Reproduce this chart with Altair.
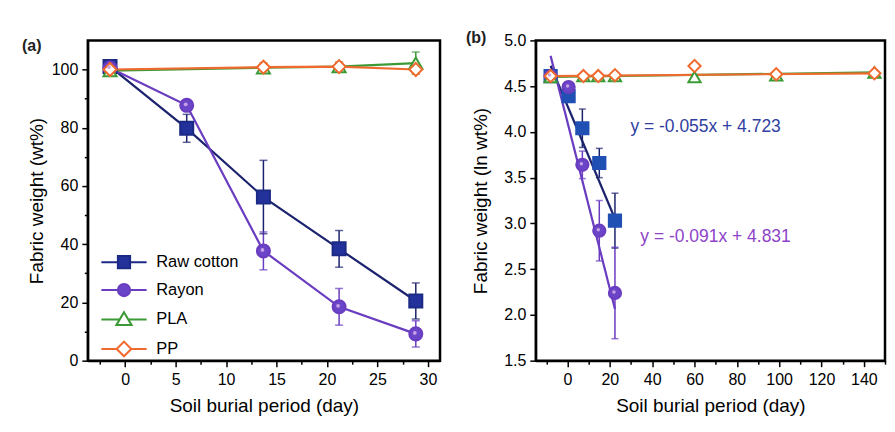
import altair as alt
import pandas as pd

SERIES = ["Raw cotton", "Rayon", "PLA", "PP"]
LINE_COLORS = ["#1c236e", "#6a3cc0", "#3b9a35", "#ef6a2e"]
STROKE_A = ["#1c2a85", "#6a3cc0", "#3b9a35", "#ef6a2e"]
FILL_A = ["#22329a", "#6b45c8", "#ffffff", "#ffffff"]
STROKE_B = ["#2150b4", "#6a3cc0", "#3b9a35", "#ef6a2e"]
FILL_B = ["#2150b4", "#6b45c8", "#ffffff", "#ffffff"]
SHAPES = ["square", "circle", "triangle-up", "diamond"]
HIGHLIGHT = "#c9a2e6"
LEGEND_PATHS = [
    "M-3.7,0H-1M1,0H3.7M-1,-1H1V1H-1Z",
    "M-3.7,0H-1M1,0H3.7M-1,0A1,1,0,1,0,1,0A1,1,0,1,0,-1,0Z",
    "M-3.7,0.1H-0.7M0.7,0.1H3.7M0,-1.1L1.25,1H-1.25Z",
    "M-3.7,0H-1.2M1.2,0H3.7M0,-1.2L1.2,0L0,1.2L-1.2,0Z",
]

# ---------------- panel (a) : Fabric weight (wt%) ----------------
a_days_deg = [-1.5, 6.1, 13.7, 21.2, 28.8]
a_cotton = [101.0, 79.8, 56.2, 38.4, 20.5]
a_cotton_err = [1.0, 4.8, 12.6, 6.3, 6.2]
a_rayon = [100.5, 87.7, 37.7, 18.5, 9.2]
a_rayon_err = [1.0, 1.5, 6.5, 6.3, 4.5]
a_days_stab = [-1.5, 13.7, 21.2, 28.8]
a_pla = [99.6, 100.6, 101.0, 102.2]
a_pla_err = [1.0, 1.5, 1.5, 3.8]
a_pp = [100.0, 100.8, 101.0, 100.0]
a_pp_err = [1.0, 1.5, 1.5, 1.5]

# ---------------- panel (b) : Fabric weight (ln wt%) ----------------
b_days_deg = [-8.0, 0.5, 7.0, 15.0, 22.4]
b_cotton = [4.61, 4.39, 4.04, 3.66, 3.03]
b_cotton_err = [0.02, 0.05, 0.21, 0.16, 0.30]
b_rayon = [4.61, 4.49, 3.64, 2.92, 2.24]
b_rayon_err = [0.02, 0.03, 0.15, 0.33, 0.50]
b_days_stab = [-8.0, 7.5, 14.5, 22.4, 60.0, 98.6, 145.0]
b_pla = [4.60, 4.61, 4.61, 4.61, 4.60, 4.62, 4.65]
b_pp = [4.61, 4.61, 4.61, 4.62, 4.72, 4.63, 4.64]

# fitted lines in panel (b) (slope per day, intercept at first point)
fit_series = ["Raw cotton", "Rayon", "PLA", "PP"]
fit_slope = [-0.055, -0.091, 0.00033, 0.0002]
fit_intercept = [4.723, 4.831, 4.60, 4.61]
fit_x_start = [-8.0, -8.0, -8.0, -8.0]
fit_x_end = [22.4, 22.4, 145.0, 145.0]

eq_text = ["y = -0.055x + 4.723", "y = -0.091x + 4.831"]
eq_x = [29.7, 34.4]
eq_y = [4.05, 2.85]
eq_color = ["#3040a0", "#8e43c8"]

FONT = "Liberation Sans"


def long_df(series_list):
    rows = []
    for name, xs, ys, es in series_list:
        for x, y, e in zip(xs, ys, es):
            rows.append({"series": name, "day": x, "val": y,
                         "lo": y - e, "hi": y + e})
    return pd.DataFrame(rows)


df_a = long_df([
    ("Raw cotton", a_days_deg, a_cotton, a_cotton_err),
    ("Rayon", a_days_deg, a_rayon, a_rayon_err),
    ("PLA", a_days_stab, a_pla, a_pla_err),
    ("PP", a_days_stab, a_pp, a_pp_err),
])
df_b = long_df([
    ("Raw cotton", b_days_deg, b_cotton, b_cotton_err),
    ("Rayon", b_days_deg, b_rayon, b_rayon_err),
    ("PLA", b_days_stab, b_pla, [0.0] * len(b_pla)),
    ("PP", b_days_stab, b_pp, [0.0] * len(b_pp)),
])
fit_rows = []
for s, m, c, x0, x1 in zip(fit_series, fit_slope, fit_intercept, fit_x_start, fit_x_end):
    for x in (x0, x1):
        fit_rows.append({"series": s, "day": x, "val": c + m * (x - x0)})
df_fit = pd.DataFrame(fit_rows)
df_eq = pd.DataFrame({"text": eq_text, "day": eq_x, "val": eq_y, "color": eq_color})


def minor_size(step):
    return {"condition": {"test": f"abs(datum.value % {step}) > 0.001", "value": 3.5}, "value": 6}


# ---- panel a ----
xa = alt.X("day:Q", scale=alt.Scale(domain=[-3.7, 31.2], nice=False, zero=False),
           axis=alt.Axis(title="Soil burial period (day)",
                         values=[-2.5 + 2.5 * i for i in range(14)],
                         labelExpr="abs(datum.value % 5) < 0.001 ? datum.label : ''",
                         tickSize=minor_size(5), labelPadding=5))
ya_scale = alt.Scale(domain=[0, 110], nice=False)
ya_axis = alt.Axis(title="Fabric weight (wt%)",
                   values=[10 * i for i in range(11)],
                   labelExpr="datum.value % 20 === 0 ? datum.label : ''",
                   tickSize=minor_size(20), titlePadding=5)


def ya(field):
    return alt.Y(field, scale=ya_scale, axis=ya_axis)


line_color = alt.Color("series:N", scale=alt.Scale(domain=SERIES, range=LINE_COLORS), legend=None)
stroke_a = alt.Stroke("series:N", scale=alt.Scale(domain=SERIES, range=STROKE_A), legend=None)

base_a = alt.Chart(df_a)
err_a = base_a.mark_rule(strokeWidth=1.5).encode(x=xa, y=ya("lo:Q"), y2="hi:Q", color=line_color)
cap_lo_a = base_a.mark_tick(orient="horizontal", size=8, thickness=1.5).encode(
    x=xa, y=ya("lo:Q"), color=line_color)
cap_hi_a = base_a.mark_tick(orient="horizontal", size=8, thickness=1.5).encode(
    x=xa, y=ya("hi:Q"), color=line_color)
lines_a = base_a.mark_line(strokeWidth=2.2).encode(x=xa, y=ya("val:Q"), color=line_color, detail="series:N")
pts_a = base_a.mark_point(size=170, strokeWidth=2, opacity=1).encode(
    x=xa, y=ya("val:Q"),
    shape=alt.Shape("series:N", scale=alt.Scale(domain=SERIES, range=SHAPES), legend=None),
    stroke=stroke_a,
    fill=alt.Fill("series:N", scale=alt.Scale(domain=SERIES, range=FILL_A), legend=None),
)
hl_a = base_a.transform_filter("datum.series === 'Rayon'").mark_point(
    size=14, filled=True, color=HIGHLIGHT, opacity=1, xOffset=-1, yOffset=-1
).encode(x=xa, y=ya("val:Q"))
leg_a = base_a.transform_filter("false").mark_point(size=150, strokeWidth=2, opacity=1).encode(
    x=xa, y=ya("val:Q"),
    shape=alt.Shape("series:N", scale=alt.Scale(domain=SERIES, range=LEGEND_PATHS),
                    legend=alt.Legend(title=None, orient="none", legendX=28, legendY=214,
                                      labelFontSize=16.5, labelFont=FONT, labelColor="black",
                                      symbolSize=150, symbolStrokeWidth=2, labelOffset=24,
                                      rowPadding=7, padding=0)),
    stroke=alt.Stroke("series:N", scale=alt.Scale(domain=SERIES, range=STROKE_A)),
    fill=alt.Fill("series:N", scale=alt.Scale(domain=SERIES, range=FILL_A)),
)

panel_a = alt.layer(err_a, cap_lo_a, cap_hi_a, lines_a, pts_a, hl_a, leg_a).resolve_scale(
    shape="independent", stroke="independent", fill="independent"
).properties(
    width=353, height=321,
    title=alt.Title("(a)", anchor="start", frame="group", orient="top", dx=-66, dy=14,
                    offset=0, fontSize=16, fontWeight="bold", font=FONT, color="#222"),
)

# ---- panel b ----
xb = alt.X("day:Q", scale=alt.Scale(domain=[-15, 150], nice=False, zero=False),
           axis=alt.Axis(title="Soil burial period (day)",
                         values=[-10 + 10 * i for i in range(17)],
                         labelExpr="abs(datum.value % 20) < 0.001 ? datum.label : ''",
                         tickSize=minor_size(20), labelPadding=5))
yb_scale = alt.Scale(domain=[1.5, 5.0], nice=False, zero=False)
yb_axis = alt.Axis(title="Fabric weight (ln wt%)", values=[1.5 + 0.5 * i for i in range(8)],
                   format=".1f", tickSize=6, titlePadding=13)


def yb(field):
    return alt.Y(field, scale=yb_scale, axis=yb_axis)


df_b_err = df_b[df_b["hi"] > df_b["lo"]]
err_b = alt.Chart(df_b_err).mark_rule(strokeWidth=1.5).encode(
    x=xb, y=yb("lo:Q"), y2="hi:Q", color=line_color)
cap_lo_b = alt.Chart(df_b_err).mark_tick(orient="horizontal", size=7, thickness=1.5).encode(
    x=xb, y=yb("lo:Q"), color=line_color)
cap_hi_b = alt.Chart(df_b_err).mark_tick(orient="horizontal", size=7, thickness=1.5).encode(
    x=xb, y=yb("hi:Q"), color=line_color)
fit_b = alt.Chart(df_fit).mark_line(strokeWidth=2.2).encode(
    x=xb, y=yb("val:Q"), color=line_color, detail="series:N")
pts_b = alt.Chart(df_b).mark_point(size=150, strokeWidth=2, opacity=1).encode(
    x=xb, y=yb("val:Q"),
    shape=alt.Shape("series:N", scale=alt.Scale(domain=SERIES, range=SHAPES),
                    legend=alt.Legend(title=None, orient="none", legendX=206, legendY=220,
                                      labelFontSize=16.5, labelFont=FONT, labelColor="black",
                                      symbolSize=150, symbolStrokeWidth=2, labelOffset=12,
                                      rowPadding=7, padding=0)),
    stroke=alt.Stroke("series:N", scale=alt.Scale(domain=SERIES, range=STROKE_B)),
    fill=alt.Fill("series:N", scale=alt.Scale(domain=SERIES, range=FILL_B)),
)
hl_b = alt.Chart(df_b).transform_filter("datum.series === 'Rayon'").mark_point(
    size=12, filled=True, color=HIGHLIGHT, opacity=1, xOffset=-1, yOffset=-1
).encode(x=xb, y=yb("val:Q"))
eq_b = alt.Chart(df_eq).mark_text(align="left", baseline="middle", fontSize=17.5, font=FONT).encode(
    x=xb, y=yb("val:Q"), text="text:N",
    color=alt.Color("color:N", scale=None))

panel_b = alt.layer(err_b, cap_lo_b, cap_hi_b, fit_b, pts_b, hl_b, eq_b).properties(
    width=350, height=321,
    title=alt.Title("(b)", anchor="start", frame="group", orient="top", dx=-70, dy=14,
                    offset=0, fontSize=16, fontWeight="bold", font=FONT, color="#222"),
)

chart = alt.hconcat(panel_a, panel_b, spacing=22).properties(
    padding={"left": 12, "top": 20, "right": 0, "bottom": 0}
).configure_view(stroke="black", strokeWidth=2.5).configure_axis(
    domainColor="black", domainWidth=2, tickColor="black", tickWidth=1.5,
    labelFont=FONT, labelFontSize=16, labelColor="black",
    titleFont=FONT, titleFontSize=19, titleFontWeight="normal", titleColor="black",
    grid=False, labelPadding=4, titlePadding=9,
)

chart.save("out.html", embed_options={"renderer": "svg", "actions": False})
